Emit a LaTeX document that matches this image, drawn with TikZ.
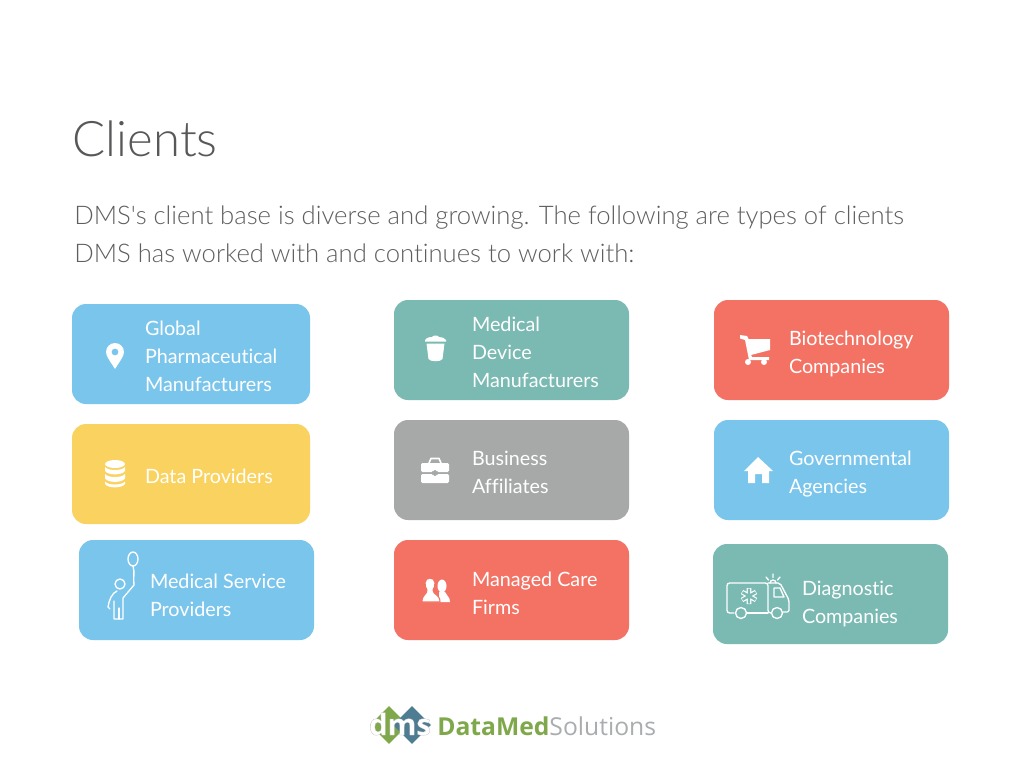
\documentclass[tikz,border=0pt]{standalone}
\usepackage{fontspec}
\setmainfont[Ligatures=NoCommon]{Lato}
\newfontfamily\lightfont[Ligatures=NoCommon]{Lato Light}
\newfontfamily\logofont{Open Sans}
\usetikzlibrary{positioning,calc,shapes.geometric}
\definecolor{skyblue}{HTML}{7AC5EC}
\definecolor{seateal}{HTML}{7ABAB2}
\definecolor{coralred}{HTML}{F47264}
\definecolor{sunyellow}{HTML}{F9D25F}
\definecolor{stonegray}{HTML}{A6A9A8}
\definecolor{inkgray}{HTML}{58585A}
\definecolor{bodygray}{HTML}{5E5E5E}
\definecolor{logogreen}{HTML}{7FA84A}
\definecolor{logoblue}{HTML}{4E7C93}
\definecolor{logogray}{HTML}{A9ADB0}
\begin{document}
\begin{tikzpicture}[x=0.75pt, y=-0.75pt,
        card/.style={rectangle, rounded corners=10.5pt, minimum width=176.25pt, minimum height=75pt, inner sep=0pt},
        cardtext/.style={anchor=west, text=white, align=left, inner sep=0pt, font=\fontsize{14.8}{21}\selectfont},
        markdiamond/.style={diamond, inner sep=0pt, minimum width=28.5pt, minimum height=28.5pt},
        icon/.style={fill=white, draw=none},
        thinicon/.style={draw=white, line width=1pt, line cap=round, line join=round}]

        \useasboundingbox (0,0) rectangle (1024,768);
        \fill [white] (0,0) rectangle (1024,768);

        \node [anchor=west, inner sep=0pt, text=inkgray, font=\lightfont\fontsize{36.8}{40}\selectfont] (title) at (72.5,139) {Clients};
        \node [anchor=north west, inner sep=0pt, text=bodygray, align=left, font=\lightfont\fontsize{19.25}{28}\selectfont] (intro) at (74,206)
            {DMS's client base is diverse and growing. The following are types of clients\\DMS has worked with and continues to work with:};

        % left column
        \node [card, minimum width=178.5pt, fill=skyblue] (pharma) at (191,354) {};
        \node [card, minimum width=178.5pt, fill=sunyellow] (data) at (191,474) {};
        \node [card, fill=skyblue] (service) at (196.5,590) {};
        % middle column
        \node [card, fill=seateal] (device) at (511.5,350) {};
        \node [card, fill=stonegray] (business) at (511.5,470) {};
        \node [card, fill=coralred] (managed) at (511.5,590) {};
        % right column
        \node [card, fill=coralred] (biotech) at (831.5,350) {};
        \node [card, fill=skyblue] (gov) at (831.5,470) {};
        \node [card, fill=seateal] (diag) at (830.5,594) {};

        \node [cardtext] (pharmatxt) at ($(pharma.west)+(73,2)$) {Global\\Pharmaceutical\\Manufacturers};
        \node [cardtext] (datatxt) at ($(data.west)+(73,2)$) {Data Providers};
        \node [cardtext] (servicetxt) at ($(service.west)+(71,5)$) {Medical Service\\Providers};
        \node [cardtext] (devicetxt) at ($(device.west)+(78,2)$) {Medical\\Device\\Manufacturers};
        \node [cardtext] (businesstxt) at ($(business.west)+(78,2)$) {Business\\Affiliates};
        \node [cardtext] (managedtxt) at ($(managed.west)+(78,3)$) {Managed Care\\Firms};
        \node [cardtext] (biotechtxt) at ($(biotech.west)+(75,4)$) {Biotechnology\\Companies};
        \node [cardtext] (govtxt) at ($(gov.west)+(75,4)$) {Governmental\\Agencies};
        \node [cardtext] (diagtxt) at ($(diag.west)+(89,10)$) {Diagnostic\\Companies};

        % pin
        \fill [icon, even odd rule] (115,369) .. controls (110,361) and (106,356) .. (106,352) arc [start angle=180, end angle=360, x radius=9, y radius=9] .. controls (124,356) and (120,361) .. (115,369) -- cycle (115,352) circle (3.5);
        % cup
        \fill [icon] (425,340) .. controls (427,337) and (431,337) .. (432,337) .. controls (433,335) and (438,335) .. (439,337) .. controls (442,337) and (445,338) .. (446,340) -- (446,341.5) -- (425,341.5) -- cycle;
        \fill [icon] (426.5,343.5) -- (444.5,343.5) -- (442.5,359) .. controls (441,362) and (430,362) .. (428.5,359) -- cycle;
        % database
        \fill [icon] (115,464) ellipse [x radius=10, y radius=4];
        \fill [icon] (105,467) .. controls (108,471) and (122,471) .. (125,467) -- (125,471) .. controls (122,475.5) and (108,475.5) .. (105,471) -- cycle;
        \fill [icon] (105,474) .. controls (108,478) and (122,478) .. (125,474) -- (125,478.5) .. controls (122,483) and (108,483) .. (105,478.5) -- cycle;
        \fill [icon] (105,481.5) .. controls (108,485.5) and (122,485.5) .. (125,481.5) -- (125,484) .. controls (122,488.5) and (108,488.5) .. (105,484) -- cycle;
        % briefcase
        \fill [icon, rounded corners=1pt] (421,463) -- (449,463) -- (449,472) -- (437,472) -- (437,470) -- (433,470) -- (433,472) -- (421,472) -- cycle;
        \fill [icon, rounded corners=1pt] (421,474) -- (433,474) -- (433,476) -- (437,476) -- (437,474) -- (449,474) -- (449,483) -- (421,483) -- cycle;
        \draw [white, line width=1.2pt] (429,463) -- (431,458.5) -- (439,458.5) -- (441,463);
        % people
        \fill [icon] (442,586) ellipse [x radius=4.5, y radius=6.5];
        \fill [icon] (439,602) -- (450,602) .. controls (450,596) and (446,596) .. (445,592) -- (439,592) -- cycle;
        \fill [draw=coralred, line width=0.8pt, fill=white] (422,602) .. controls (422,594) and (427,595) .. (427,590) .. controls (424,586) and (424,578) .. (430,578) .. controls (436,578) and (436,586) .. (433,590) .. controls (433,595) and (440,594) .. (440,602) -- cycle;
        % cart
        \fill [icon] (740,335) -- (747,336) -- (748.5,339) -- (770,339) -- (770,350) -- (751,355) -- (752,357) -- (769,357) -- (769,360) -- (749,360) -- (745,340) -- (740,338.5) -- cycle;
        \fill [icon] (748,362) circle (3) (764,362) circle (3);
        % house
        \fill [icon] (758,457) -- (773,471) -- (769,471) -- (769,483) -- (762,483) -- (762,474) -- (755,474) -- (755,483) -- (748,483) -- (748,471) -- (744,471) -- cycle;
        % balloon child
        \draw [thinicon] (133,559) ellipse [x radius=5, y radius=7];
        \draw [thinicon] (133,566) .. controls (135,572) and (133,578) .. (134,585);
        \draw [thinicon] (120,584) circle (5);
        \draw [thinicon] (134,585) -- (123,598) -- (123,619) -- (114,619) -- (114,601);
        \draw [thinicon] (119,619) -- (119,608);
        \draw [thinicon] (117,591) .. controls (112,593) and (109,600) .. (108,607) -- (110,609);
        % ambulance
        \draw [thinicon, rounded corners=2pt] (734,613) -- (727,613) -- (727,583) -- (768,583) -- (768,613) -- (771,613);
        \draw [thinicon] (747,613) -- (768,613);
        \draw [thinicon, rounded corners=1.5pt] (768,583) -- (780,583) -- (789,600) -- (789,612) -- (783,612);
        \draw [thinicon] (774,588) -- (780,588) -- (784,597) -- (774,597) -- cycle;
        \draw [thinicon] (741,613) circle (5.5) (777,613) circle (5.5);
        \draw [white, line width=3.6pt] (749,588) -- (749,604) (742,592) -- (756,600) (742,600) -- (756,592);
        \draw [seateal, line width=1.8pt] (749,588.5) -- (749,603.5) (742.5,592.3) -- (755.5,599.7) (742.5,599.7) -- (755.5,592.3);
        \draw [thinicon] (770,583) arc [start angle=180, end angle=360, radius=3];
        \draw [thinicon] (766,577) -- (768.5,580) (773,574) -- (773,577.5) (780,577) -- (777.5,580);

        % logo
        \node [markdiamond, fill=logogreen] (greenmark) at (389,725) {};
        \node [markdiamond, fill=logoblue] (bluemark) at (412,725) {};
        \node [anchor=center, inner sep=0pt, text=white, font=\logofont\bfseries\fontsize{22}{24}\selectfont] (dmsmark) at (400,724)
            {\special{pdf:code 2 Tr 0.2 w 0.75 G}dms\special{pdf:code 0 Tr 1 w 0 G}};
        \node [anchor=west, inner sep=0pt, font=\logofont\fontsize{18.5}{22}\selectfont] (logotxt) at (437,726)
            {\textcolor{logogreen}{\textbf{DataMed}}\textcolor{logogray}{Solutions}};
\end{tikzpicture}
\end{document}
